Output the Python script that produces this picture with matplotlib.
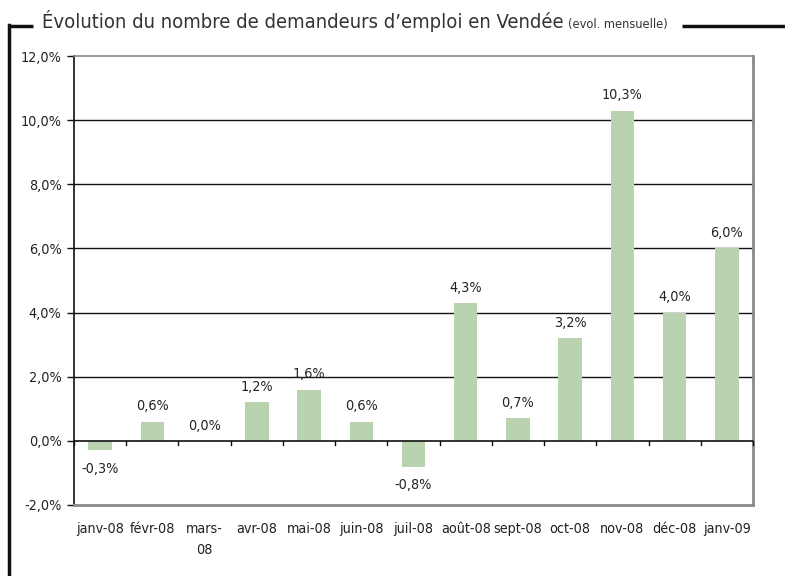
import matplotlib
matplotlib.use("Agg")
import matplotlib.pyplot as plt
from matplotlib.lines import Line2D
import numpy as np

plt.rcParams['font.family'] = ['DejaVu Sans']
plt.rcParams['font.stretch'] = 'condensed'

categories = ["janv-08", "févr-08", "mars-\n08", "avr-08", "mai-08", "juin-08", "juil-08",
              "août-08", "sept-08", "oct-08", "nov-08", "déc-08", "janv-09"]
values = [-0.3, 0.6, 0.0, 1.2, 1.6, 0.6, -0.8, 4.3, 0.7, 3.2, 10.3, 4.0, 6.0]
yticks = [-2, 0, 2, 4, 6, 8, 10, 12]

W, H = 785, 576
fig = plt.figure(figsize=(W / 100, H / 100), dpi=100)
ax = fig.add_axes([74 / W, 1 - 505 / H, (753 - 74) / W, (505 - 56) / H])

x = np.arange(len(values))
ax.bar(x, values, width=0.45, color="#b9d3b0", zorder=3)

ax.set_xlim(-0.5, len(values) - 0.5)
ax.set_ylim(-2, 12)
for g in [2, 4, 6, 8, 10]:
    ax.axhline(g, color="#111111", lw=1.0, zorder=1)
ax.axhline(0, color="#111111", lw=1.2, zorder=4)

# category ticks on zero line
for b in np.arange(-0.5, len(values) + 0.5, 1.0):
    ax.plot([b, b], [0, -0.14], color="#111111", lw=1.0, zorder=4, clip_on=False)

fs = 10.3
ax.set_yticks(yticks)
ax.set_yticklabels([f"{v:.1f}%".replace(".", ",") for v in yticks], fontsize=fs, color="#222222")
ax.tick_params(axis="y", length=5, width=1, color="#111111", pad=4)
ax.set_xticks(x)
ax.set_xticklabels(categories, fontsize=fs, color="#222222", linespacing=1.65)
ax.tick_params(axis="x", length=0, pad=12)

for s in ["top", "right", "bottom"]:
    ax.spines[s].set_color("#8a8a8a")
ax.spines["top"].set_linewidth(1.2)
ax.spines["right"].set_linewidth(2.0)
ax.spines["bottom"].set_linewidth(2.0)
ax.spines["left"].set_color("#111111")
ax.spines["left"].set_linewidth(1.2)

for xi, v in zip(x, values):
    lab = f"{v:.1f}%".replace(".", ",")
    if v >= 0:
        ax.annotate(lab, (xi, v), xytext=(0, 6), textcoords="offset points",
                    ha="center", va="bottom", fontsize=fs, color="#222222")
    else:
        ax.annotate(lab, (xi, v), xytext=(0, -8), textcoords="offset points",
                    ha="center", va="top", fontsize=fs, color="#222222")

# outer frame
fig.add_artist(Line2D([9 / W, 9 / W], [0, 1 - 25 / H], color="#111111", lw=2.5,
                      transform=fig.transFigure))
fig.add_artist(Line2D([8 / W, 33 / W], [1 - 26 / H, 1 - 26 / H], color="#111111", lw=2.5,
                      transform=fig.transFigure, solid_capstyle="butt"))
fig.add_artist(Line2D([682 / W, 1], [1 - 26 / H, 1 - 26 / H], color="#111111", lw=2.5,
                      transform=fig.transFigure, solid_capstyle="butt"))

t1 = fig.text(42 / W, 1 - 28 / H, "Évolution du nombre de demandeurs d\u2019emploi en Vendée",
              fontsize=14.5, color="#333333", ha="left", va="baseline")
fig.canvas.draw()
bb = t1.get_window_extent()
fig.text(bb.x1 / W + 4 / W, 1 - 28 / H, "(evol. mensuelle)", fontsize=9.2, color="#333333",
         ha="left", va="baseline")

fig.savefig("out.png", dpi=100)
